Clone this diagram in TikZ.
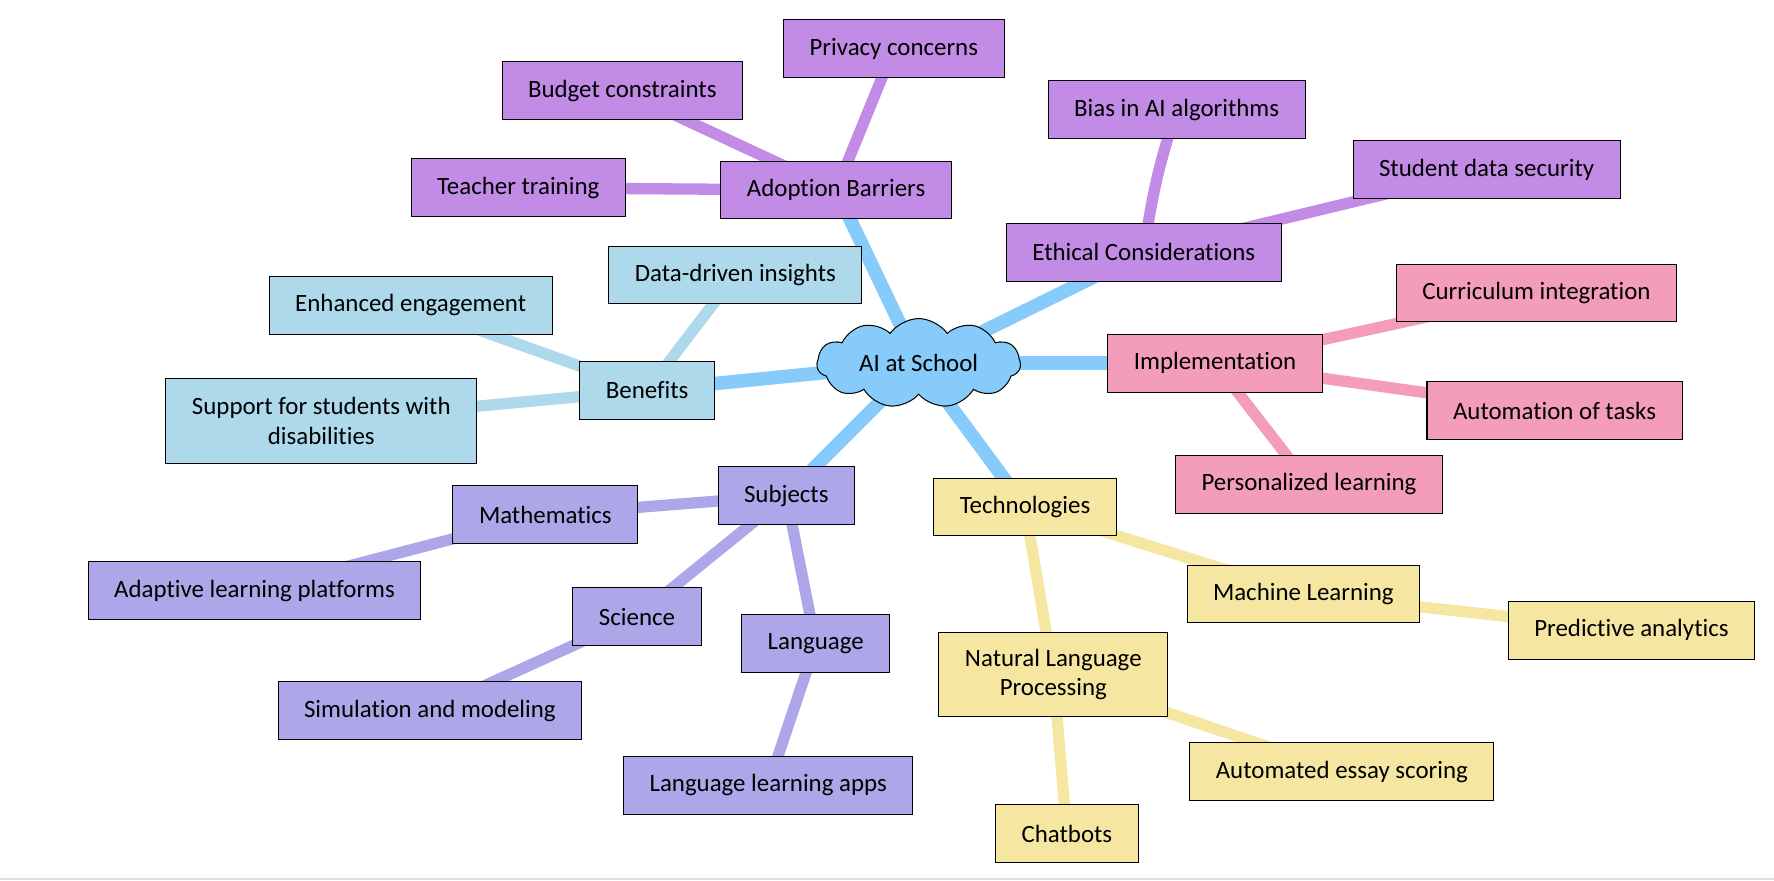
\documentclass[tikz,border=0pt]{standalone}
\usepackage{fontspec}
\setmainfont{Carlito}[Ligatures=NoCommon]
\usetikzlibrary{shapes.symbols,backgrounds}

\definecolor{rootblue}{HTML}{86CBF9}
\definecolor{barrierpurple}{HTML}{C18BE6}
\definecolor{benefitblue}{HTML}{ADD9EB}
\definecolor{implpink}{HTML}{F39DBA}
\definecolor{subjlavender}{HTML}{ADA7EA}
\definecolor{techyellow}{HTML}{F5E6A1}

\tikzset{
  topic/.style={draw=black, line width=0.9pt, minimum height=51pt, inner xsep=23pt, inner ysep=5pt, align=center, font=\fontsize{22}{26}\selectfont},
  barrier/.style={topic, fill=barrierpurple},
  benefit/.style={topic, fill=benefitblue},
  impl/.style={topic, fill=implpink},
  subj/.style={topic, fill=subjlavender},
  tech/.style={topic, fill=techyellow},
  trunk/.style={rootblue, line width=12pt, line cap=round},
  twig/.style={line width=10pt, line cap=round},
}

\begin{document}
\begin{tikzpicture}[x=1pt, y=-1pt]
\useasboundingbox (0,0) rectangle (1568,778);

% centre
\node[cloud, cloud puffs=11, cloud puff arc=110, aspect=2.5, minimum width=180pt, minimum height=72pt, inner sep=0pt, draw=black, line width=0.9pt, fill=rootblue, font=\fontsize{22}{26}\selectfont] (root) at (812,321) {AI at School};

% adoption barriers and ethics
\node[barrier] (adoption) at (739,168) {Adoption Barriers};
\node[barrier] (privacy) at (790,43) {Privacy concerns};
\node[barrier] (budget) at (550,80) {Budget constraints};
\node[barrier] (teacher) at (458,166) {Teacher training};
\node[barrier] (ethical) at (1011,223) {Ethical Considerations};
\node[barrier] (bias) at (1040,97) {Bias in AI algorithms};
\node[barrier] (security) at (1314,150) {Student data security};

% benefits
\node[benefit] (benefits) at (572,345) {Benefits};
\node[benefit] (insights) at (650,243) {Data-driven insights};
\node[benefit] (engagement) at (363,270) {Enhanced engagement};
\node[benefit, minimum height=75pt] (support) at (284,372) {Support for students with\\disabilities};

% implementation
\node[impl] (implementation) at (1074,321) {Implementation};
\node[impl] (curriculum) at (1358,259) {Curriculum integration};
\node[impl] (automation) at (1374,363) {Automation of tasks};
\node[impl] (personalized) at (1157,428) {Personalized learning};

% subjects
\node[subj] (subjects) at (695,438) {Subjects};
\node[subj] (maths) at (482,455) {Mathematics};
\node[subj] (adaptive) at (225,522) {Adaptive learning platforms};
\node[subj] (science) at (563,545) {Science};
\node[subj] (simulation) at (380,628) {Simulation and modeling};
\node[subj] (language) at (721,569) {Language};
\node[subj] (langapps) at (679,694) {Language learning apps};

% technologies
\node[tech] (technologies) at (906,448) {Technologies};
\node[tech] (ml) at (1152,525) {Machine Learning};
\node[tech] (predictive) at (1442,557) {Predictive analytics};
\node[tech, minimum height=74pt] (nlp) at (931,596) {Natural Language\\Processing};
\node[tech] (essay) at (1186,682) {Automated essay scoring};
\node[tech] (chatbots) at (943,737) {Chatbots};

\begin{scope}[on background layer]
\draw[trunk] (root.center) -- (adoption.center);
\draw[trunk] (root.center) -- (ethical.center);
\draw[trunk] (root.center) -- (implementation.center);
\draw[trunk] (root.center) -- (technologies.center);
\draw[trunk] (root.center) -- (subjects.center);
\draw[trunk] (root.center) -- (benefits.center);

\draw[twig, barrierpurple] (adoption.center) -- (privacy.center);
\draw[twig, barrierpurple] (adoption.center) -- (budget.center);
\draw[twig, barrierpurple] (adoption.center) -- (teacher.center);
\draw[twig, barrierpurple] (ethical.center) to[bend left=5] (bias.center);
\draw[twig, barrierpurple] (ethical.center) -- (security.center);

\draw[twig, benefitblue] (benefits.center) -- (insights.center);
\draw[twig, benefitblue] (benefits.center) -- (engagement.center);
\draw[twig, benefitblue] (benefits.center) -- (support.center);

\draw[twig, implpink] (implementation.center) -- (curriculum.center);
\draw[twig, implpink] (implementation.center) -- (automation.center);
\draw[twig, implpink] (implementation.center) -- (personalized.center);

\draw[twig, subjlavender] (subjects.center) -- (maths.center);
\draw[twig, subjlavender] (maths.center) -- (adaptive.center);
\draw[twig, subjlavender] (subjects.center) -- (science.center);
\draw[twig, subjlavender] (science.center) -- (simulation.center);
\draw[twig, subjlavender] (subjects.center) -- (language.center);
\draw[twig, subjlavender] (language.center) -- (langapps.center);

\draw[twig, techyellow] (technologies.center) -- (ml.center);
\draw[twig, techyellow] (ml.center) -- (predictive.center);
\draw[twig, techyellow] (technologies.center) -- (nlp.center);
\draw[twig, techyellow] (nlp.center) -- (essay.center);
\draw[twig, techyellow] (nlp.center) -- (chatbots.center);
\end{scope}

% bottom edge of the screen
\draw[black!12, line width=2pt] (0,777) -- (1568,777);
\end{tikzpicture}
\end{document}
